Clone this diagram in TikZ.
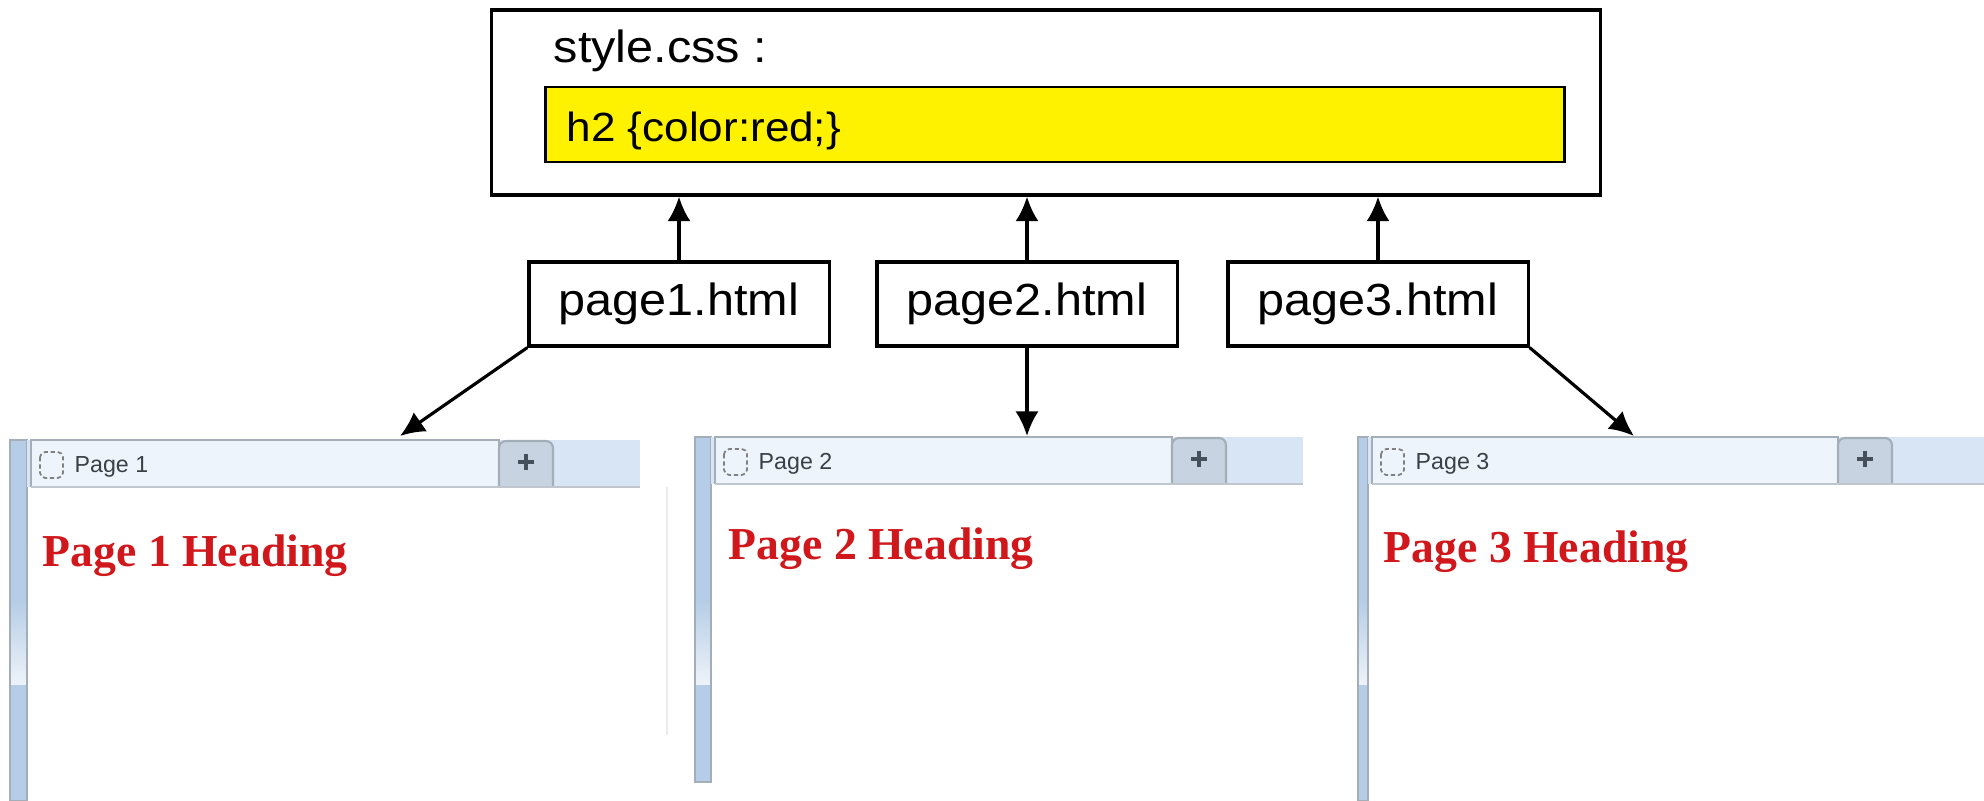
\documentclass[tikz,border=0pt]{standalone}
\usepackage{fontspec}
\newfontfamily\diagfont[FakeStretch=1.08]{Liberation Sans}
\newfontfamily\tabfont{Liberation Sans}
\newfontfamily\headfont{Liberation Serif}
\usetikzlibrary{arrows.meta,positioning}

\definecolor{barblue}{HTML}{B5CDE6}
\definecolor{barwhite}{HTML}{EEF3F9}
\definecolor{stripblue}{HTML}{D7E5F4}
\definecolor{tabwhite}{HTML}{EEF4FB}
\definecolor{tabedge}{HTML}{A4AEB8}
\definecolor{plusgray}{HTML}{C7D3E0}
\definecolor{plusdark}{HTML}{46505A}
\definecolor{headred}{HTML}{D0181C}

\tikzset{
  filebox/.style={draw,line width=0.9pt,minimum width=3cm,minimum height=0.84cm,
    inner sep=0pt,font=\diagfont\fontsize{12.8}{14}\selectfont},
  codetext/.style={anchor=base west,inner sep=0pt,font=\diagfont\fontsize{#1}{14}\selectfont},
  tablabel/.style={anchor=base west,inner sep=0pt,text=plusdark!80!black,font=\tabfont\fontsize{6.6}{8}\selectfont},
  heading/.style={anchor=base west,inner sep=0pt,text=headred,font=\headfont\bfseries\fontsize{13}{15}\selectfont},
  link/.style={->,line width=0.9pt}
}

\begin{document}
\begin{tikzpicture}[x=0.01cm,y=-0.01cm,>={Latex[length=7pt,width=6.6pt]}]
\useasboundingbox (0,0) rectangle (1984,801);

% stylesheet
\node[draw,line width=0.9pt,minimum width=11.08cm,minimum height=1.85cm] (css) at (1046,102.5) {};
\node[draw,line width=0.7pt,fill=yellow,minimum width=10.18cm,minimum height=0.75cm] (rule) at (1055,124.5) {};
\node[codetext=12.8] (csslabel) at (553,63) {style.css :};
\node[codetext=11.6] (rulelabel) at (566,142) {h2 \{color:red;\}};

% html files
\node[filebox] (p1) at (679,304) {page1.html};
\node[filebox] (p2) at (1027,304) {page2.html};
\node[filebox] (p3) at (1378,304) {page3.html};

\foreach \i in {1,2,3}
  \draw[link] (p\i.north) -- (p\i.north |- css.south);

% browser windows: bar left/right, tab right, strip end, bar bottom, strip top, heading x/y
\foreach \bl/\br/\tr/\se/\bb/\st/\hx/\hy [count=\n] in
  {10/27/499/640/801/440/42/567, 695/711/1172/1303/782/437/728/560, 1358/1368/1838/1984/801/437/1383/563}{
  \fill[barblue] (\bl,\st) rectangle (\br,600);
  \shade[top color=barblue,bottom color=barwhite] (\bl,600) rectangle (\br,685);
  \fill[barblue] (\bl,685) rectangle (\br,\bb);
  \draw[tabedge,line width=0.5pt] (\bl,\st) rectangle (\br,\bb);
  \fill[stripblue] (\br,\st) rectangle (\se,\st+47);
  \draw[tabedge,line width=0.6pt,fill=tabwhite] (\br+4,\st+47) |- (\tr,\st) -- (\tr,\st+47);
  \draw[tabedge,line width=0.6pt,fill=plusgray,rounded corners=2pt] (\tr,\st+47) |- (\tr+54,\st+1) -- (\tr+54,\st+47);
  \draw[tabedge!70,line width=0.5pt] (\br+4,\st+47) -- (\se,\st+47);
  \draw[plusdark,line width=1.3pt] (\tr+19,\st+22) -- ++(16,0) (\tr+27,\st+14) -- ++(0,16);
  \draw[gray,dashed,dash pattern=on 1.2pt off 0.8pt,rounded corners=1.5pt,line width=0.5pt]
    (\br+13,\st+12) rectangle ++(23,26);
  \node[tablabel] (tab\n) at (\br+47,\st+33) {Page \n};
  \node[heading] (head\n) at (\hx,\hy) {Page \n{} Heading};
}
\draw[black!8,line width=0.5pt] (667,487) -- (667,735);

% arrows into the windows
\coordinate (t1) at (400,436);
\coordinate (t2) at (1027,436);
\coordinate (t3) at (1634,436);
\draw[link] (p1.south west) -- (t1);
\draw[link] (p2.south) -- (t2);
\draw[link] (p3.south east) -- (t3);
\end{tikzpicture}
\end{document}
